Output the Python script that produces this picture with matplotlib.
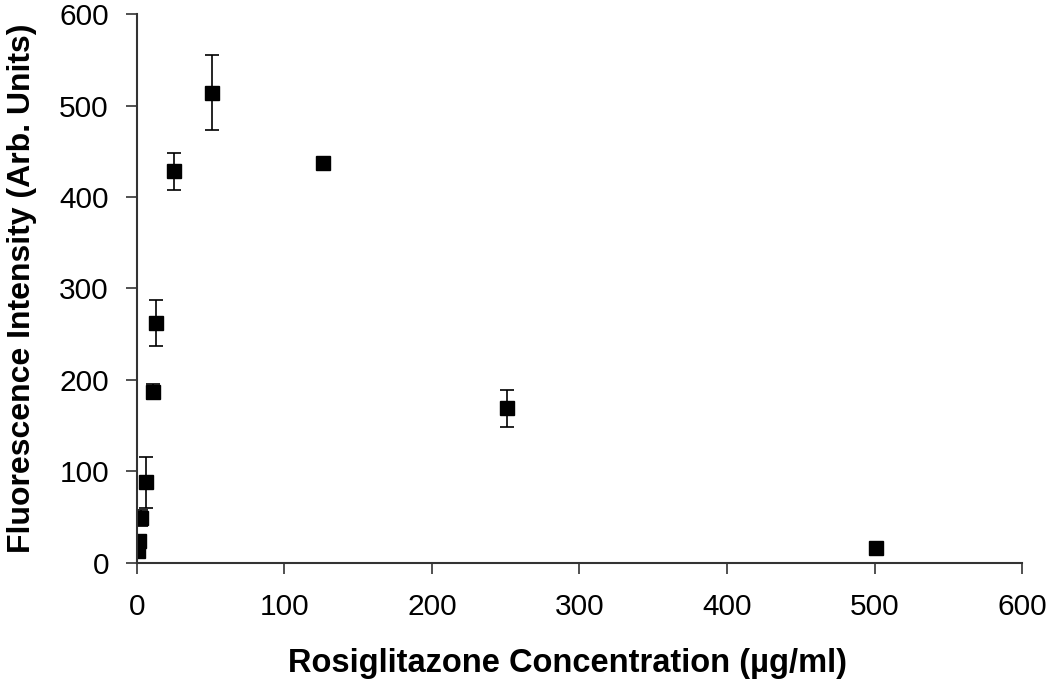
import matplotlib
matplotlib.use("Agg")
import matplotlib.pyplot as plt

plt.rcParams['font.family'] = ['Liberation Sans', 'DejaVu Sans']

# concentration (ug/ml), intensity, error
conc = [0.78, 1.56, 3.125, 6.25, 11, 13, 25.5, 51, 126, 251, 501]
intensity = [13, 24, 49, 88, 187, 262, 428, 514, 437, 169, 16]
err = [3, 4, 9, 28, 8, 25, 20, 41, 5, 20, 3]

fig = plt.figure(figsize=(10.5, 6.8), dpi=100)
ax = fig.add_axes([0.1302, 0.1725, 0.8434, 0.8065])

ax.errorbar(conc, intensity, yerr=err, fmt='s', color='black', ms=10,
            ecolor='black', elinewidth=1.2, capsize=5, capthick=1.2)

ax.set_xlim(0, 600)
ax.set_ylim(0, 600)
ax.set_xticks(range(0, 601, 100))
ax.set_yticks(range(0, 601, 100))
for s in ['top', 'right']:
    ax.spines[s].set_visible(False)
for s in ['left', 'bottom']:
    ax.spines[s].set_color('#333333')
    ax.spines[s].set_linewidth(1.5)
ax.tick_params(axis='both', labelsize=21.5, length=8, width=1.2, color='#333333')
ax.tick_params(axis='x', pad=14)
ax.tick_params(axis='y', pad=12)

ax.set_xlabel('Rosiglitazone Concentration (µg/ml)', fontsize=23.5, fontweight='bold', labelpad=20)
ax.set_ylabel('Fluorescence Intensity (Arb. Units)', fontsize=23, fontweight='bold', labelpad=16)
ax.xaxis.set_label_coords(0.487, -0.155)

fig.savefig('out.png', dpi=100)
